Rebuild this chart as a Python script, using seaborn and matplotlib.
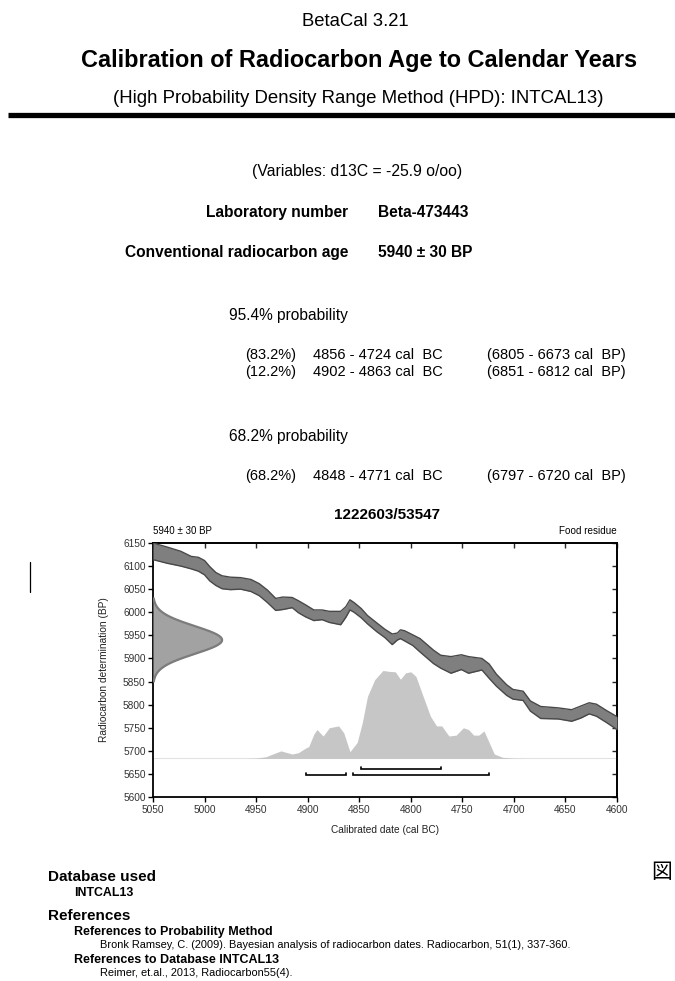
import numpy as np
import pandas as pd
import matplotlib
matplotlib.use('Agg')
import matplotlib.pyplot as plt
from matplotlib.lines import Line2D
import seaborn as sns

# ---------------- data ----------------
cal_years = [5050, 5036, 5023, 5013, 5006, 5000, 4995, 4989, 4983, 4975, 4965, 4955,
             4947, 4939, 4931, 4924, 4915, 4909, 4902, 4894, 4886, 4879, 4868, 4863,
             4859, 4855, 4848, 4842, 4833, 4825, 4818, 4813, 4810, 4806, 4798, 4791,
             4778, 4771, 4761, 4751, 4744, 4731, 4724, 4717, 4707, 4701, 4691, 4684,
             4674, 4657, 4644, 4635, 4627, 4620, 4610, 4600]
curve_upper = [6150, 6141, 6132, 6121, 6119, 6112, 6099, 6086, 6079, 6076, 6075, 6071,
               6062, 6048, 6030, 6033, 6032, 6025, 6016, 6005, 6005, 6002, 6002, 6012,
               6027, 6021, 6008, 5993, 5977, 5963, 5953, 5955, 5962, 5960, 5951, 5943,
               5918, 5907, 5904, 5908, 5904, 5900, 5888, 5866, 5843, 5833, 5829, 5808,
               5796, 5793, 5789, 5797, 5804, 5801, 5787, 5774]
curve_lower = [6114, 6106, 6100, 6094, 6089, 6081, 6068, 6058, 6051, 6049, 6050, 6045,
               6036, 6021, 6004, 6006, 6010, 5999, 5990, 5982, 5984, 5978, 5973, 5989,
               6005, 6000, 5988, 5975, 5958, 5945, 5930, 5940, 5943, 5938, 5928, 5914,
               5889, 5879, 5868, 5876, 5868, 5875, 5857, 5840, 5820, 5812, 5809, 5786,
               5770, 5769, 5764, 5771, 5780, 5775, 5761, 5746]

prob_years = [4960, 4950, 4940, 4936, 4926, 4915, 4909, 4902, 4899, 4894, 4891, 4885,
              4879, 4870, 4865, 4859, 4852, 4847, 4842, 4835, 4827, 4821, 4815, 4810,
              4805, 4800, 4795, 4788, 4781, 4775, 4770, 4763, 4756, 4749, 4744, 4739,
              4734, 4729, 4724, 4719, 4711, 4700, 4690]
prob_rel = [0.0, 0.004, 0.02, 0.04, 0.085, 0.05, 0.065, 0.117, 0.133, 0.274, 0.326, 0.253,
            0.346, 0.367, 0.289, 0.076, 0.180, 0.404, 0.700, 0.888, 0.992, 0.982, 0.977, 0.893,
            0.966, 0.977, 0.925, 0.700, 0.477, 0.367, 0.367, 0.253, 0.263, 0.346, 0.326, 0.263,
            0.263, 0.310, 0.180, 0.050, 0.013, 0.002, 0.0]

age_bp = 5940
age_err = 30
hpd95_ranges = [(4902, 4863), (4856, 4724)]
hpd68_ranges = [(4848, 4771)]
x_ticks = [5050, 5000, 4950, 4900, 4850, 4800, 4750, 4700, 4650, 4600]
y_ticks = [5600, 5650, 5700, 5750, 5800, 5850, 5900, 5950, 6000, 6050, 6100, 6150]

curve_df = pd.DataFrame({'year': cal_years, 'upper': curve_upper, 'lower': curve_lower})
prob_df = pd.DataFrame({'year': prob_years, 'rel': prob_rel})

# ---------------- style ----------------
sns.set_theme(style='white')
plt.rcParams['font.family'] = ['Liberation Sans', 'Noto Sans CJK JP', 'DejaVu Sans']

W, H = 675, 981
fig = plt.figure(figsize=(W / 100, H / 100), dpi=100)
fig.patch.set_facecolor('white')


def T(x, y, s, **kw):
    kw.setdefault('va', 'baseline')
    kw.setdefault('color', 'black')
    fig.text(x / W, 1 - y / H, s, **kw)


# ---------------- header text ----------------
T(355, 26, 'BetaCal 3.21', ha='center', fontsize=13.3)
T(359, 67, 'Calibration of Radiocarbon Age to Calendar Years', ha='center',
  fontsize=16.9, fontweight='bold')
T(358, 103, '(High Probability Density Range Method (HPD): INTCAL13)', ha='center',
  fontsize=13.4)
fig.add_artist(Line2D([8 / W, 1.0], [1 - 114.5 / H, 1 - 114.5 / H], color='black',
                      lw=3.8, solid_capstyle='butt'))

T(357, 176, '(Variables: d13C = -25.9 o/oo)', ha='center', fontsize=11.3)
T(348, 217, 'Laboratory number', ha='right', fontsize=11.2, fontweight='bold')
T(378, 217, 'Beta-473443', ha='left', fontsize=11.2, fontweight='bold')
T(348, 257, 'Conventional radiocarbon age', ha='right', fontsize=11.2, fontweight='bold')
T(378, 257, '5940 ± 30 BP', ha='left', fontsize=11.2, fontweight='bold')

T(229, 320, '95.4% probability', ha='left', fontsize=11.2)
T(296, 359, '(83.2%)', ha='right', fontsize=10.5)
T(313, 359, '4856 - 4724 cal  BC', ha='left', fontsize=10.5)
T(626, 359, '(6805 - 6673 cal  BP)', ha='right', fontsize=10.5)
T(296, 376, '(12.2%)', ha='right', fontsize=10.5)
T(313, 376, '4902 - 4863 cal  BC', ha='left', fontsize=10.5)
T(626, 376, '(6851 - 6812 cal  BP)', ha='right', fontsize=10.5)

T(229, 441, '68.2% probability', ha='left', fontsize=11.2)
T(296, 480, '(68.2%)', ha='right', fontsize=10.5)
T(313, 480, '4848 - 4771 cal  BC', ha='left', fontsize=10.5)
T(626, 480, '(6797 - 6720 cal  BP)', ha='right', fontsize=10.5)

T(387, 519, '1222603/53547', ha='center', fontsize=11, fontweight='bold')
T(153, 533.5, '5940 ± 30 BP', ha='left', fontsize=7)
T(617, 533.5, 'Food residue', ha='right', fontsize=7.1)

# cursor mark
fig.add_artist(Line2D([30.5 / W, 30.5 / W], [1 - 562 / H, 1 - 592 / H], color='black', lw=0.9))

# ---------------- chart ----------------
ax = fig.add_axes([153 / W, 1 - 797 / H, (617 - 153) / W, (797 - 543) / H])
ax.set_facecolor('white')

# probability distribution
base = 5683.5
scale = 192
ax.axhline(base, color='#e2e2e2', lw=0.8, zorder=1)
ax.fill_between(prob_df['year'], base, base + scale * prob_df['rel'], color='#c6c6c6',
                lw=0, zorder=2)

# calibration curve band
ax.fill_between(curve_df['year'], curve_df['lower'], curve_df['upper'], color='#7f7f7f',
                lw=0, zorder=3)
sns.lineplot(data=curve_df, x='year', y='upper', color='#484848', lw=1.0, ax=ax,
             sort=False, zorder=4)
sns.lineplot(data=curve_df, x='year', y='lower', color='#484848', lw=1.0, ax=ax,
             sort=False, zorder=4)

# measured age distribution (normal, +/- 3 sigma)
yy = np.linspace(age_bp - 3 * age_err, age_bp + 3 * age_err, 200)
dens = np.exp(-0.5 * ((yy - age_bp) / age_err) ** 2)
ax.fill_betweenx(yy, 5050, 5050 - 67 * dens, color='#a2a2a2', lw=0, zorder=3)
ax.plot(5050 - 67 * dens, yy, color='#7c7c7c', lw=1.6, zorder=4)

# HPD brackets
def bracket(r, y, d):
    a, b = r
    ax.plot([a, a, b, b], [y - d, y, y, y - d], color='black', lw=1.2, zorder=5,
            solid_joinstyle='miter')

for r in hpd95_ranges:
    bracket(r, 5648, -5)
for r in hpd68_ranges:
    bracket(r, 5661, -5)

ax.set_xlim(5050, 4600)
ax.set_ylim(5600, 6150)
ax.set_xticks(x_ticks)
ax.set_yticks(y_ticks)
ax.set_xticklabels([str(v) for v in x_ticks])
ax.set_yticklabels([str(v) for v in y_ticks])
ax.set_xlabel('Calibrated date (cal BC)', fontsize=7.3, labelpad=7, color='#222222')
ax.set_ylabel('Radiocarbon determination (BP)', fontsize=7.3, labelpad=10, color='#222222')
ax.tick_params(axis='both', which='both', direction='out', length=3.8, width=1.0,
               labelsize=7.3, colors='black', pad=1.5, bottom=True, left=True)
ax.tick_params(axis='x', labelcolor='#333333', pad=2)
ax.tick_params(axis='y', labelcolor='#333333')

# inward ticks on top and right
top = ax.secondary_xaxis('top')
top.set_xticks(x_ticks)
top.tick_params(direction='in', length=3.8, width=1.0, labeltop=False, top=True)
right = ax.secondary_yaxis('right')
right.set_yticks(y_ticks)
right.tick_params(direction='in', length=3.8, width=1.0, labelright=False, right=True)
for sp in ax.spines.values():
    sp.set_visible(True)
    sp.set_color('black')
    sp.set_linewidth(1.3)
top.spines['top'].set_linewidth(1.3)
right.spines['right'].set_linewidth(1.3)
if ax.get_legend():
    ax.get_legend().remove()

# ---------------- footer text ----------------
T(48, 881, 'Database used', ha='left', fontsize=11, fontweight='bold')
T(74, 896.5, 'INTCAL13', ha='left', fontsize=8.9, fontweight='bold')
T(48, 920, 'References', ha='left', fontsize=11, fontweight='bold')
T(74, 935.5, 'References to Probability Method', ha='left', fontsize=9.0, fontweight='bold')
T(100, 948.5, 'Bronk Ramsey, C. (2009). Bayesian analysis of radiocarbon dates. '
  'Radiocarbon, 51(1), 337-360.', ha='left', fontsize=7.9)
T(74, 963, 'References to Database INTCAL13', ha='left', fontsize=9.0, fontweight='bold')
T(100, 976, 'Reimer, et.al., 2013, Radiocarbon55(4).', ha='left', fontsize=7.9)
T(662, 872, '図', ha='center', va='center', fontsize=15,
  family=['Noto Sans CJK JP', 'DejaVu Sans'])

fig.savefig('out.png', dpi=100, facecolor='white')
